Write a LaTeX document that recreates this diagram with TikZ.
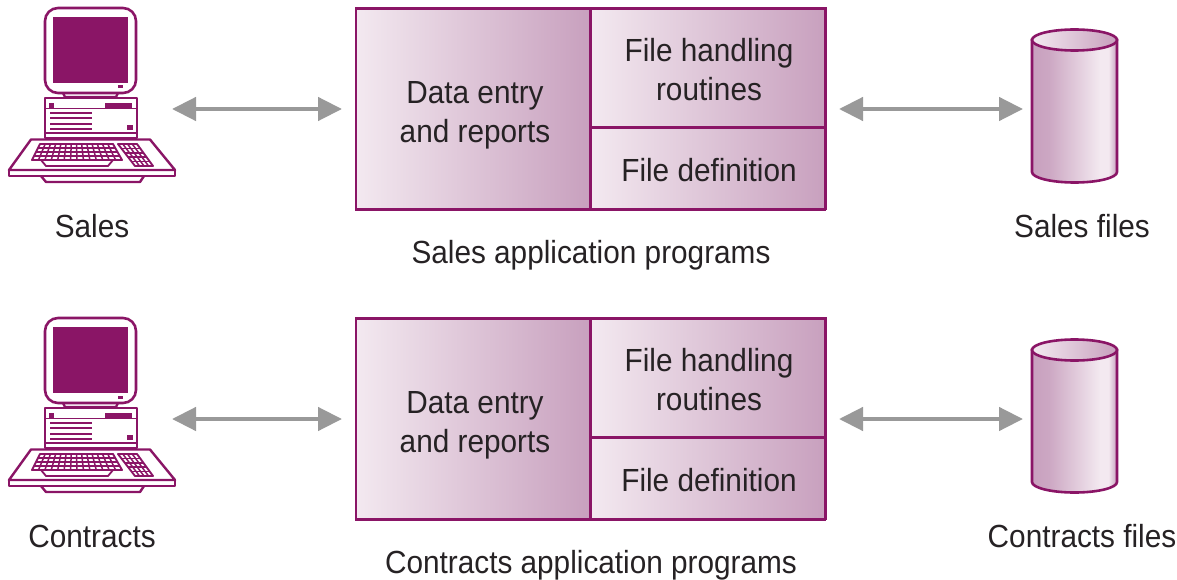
\documentclass[tikz,border=0pt]{standalone}
\usepackage{fontspec}
\setmainfont[FakeStretch=0.93]{Liberation Sans}
\usetikzlibrary{arrows.meta}
\definecolor{plum}{HTML}{8A1566}
\definecolor{pale}{HTML}{F3E9F0}
\definecolor{deep}{HTML}{C8A0BE}
\definecolor{arrowgrey}{HTML}{999999}
\definecolor{ink}{HTML}{262224}
\pgfdeclarehorizontalshading{cylbody}{100bp}{color(0bp)=(deep); color(25bp)=(deep); color(35bp)=(deep!90!pale); color(50bp)=(deep!45!pale); color(65bp)=(pale); color(70bp)=(pale); color(75bp)=(deep); color(100bp)=(deep)}
\tikzset{
  x=1pt,y=-1pt,
  lab/.style={text=ink,font=\fontsize{32}{39}\selectfont,align=center,inner sep=0pt},
  cell/.style={draw=plum,line width=2.7pt,left color=pale,right color=deep,outer sep=0pt,inner sep=0pt},
  shell/.style={draw=plum,line width=2.7pt,minimum width=469pt,minimum height=201pt,outer sep=0pt,inner sep=0pt},
  anchorbox/.style={inner sep=0pt,outer sep=0pt},
  link/.style={draw=arrowgrey,line width=4.5pt,{Triangle[length=24pt,width=23pt]}-{Triangle[length=24pt,width=23pt]}},
  pcline/.style={draw=plum,line width=2.4pt,line join=round},
  pcfill/.style={fill=plum},
  keyline/.style={draw=plum,line width=1.5pt},
}
\newcommand{\drawpc}{%
  % monitor
  \draw[pcline,line width=2.6pt,rounded corners=13pt] (45,8) rectangle (136,93);
  \fill[pcfill] (53,17) rectangle (128,83);
  \fill[pcfill] (118,85.5) rectangle (123,88.5);
  % neck
  \draw[pcline] (63,93) -- (65,97) -- (116,97) -- (118,93);
  % base
  \draw[pcline] (45,98) rectangle (137,138);
  \draw[pcline,line width=1.6pt] (45,108.5) -- (137,108.5);
  \draw[pcline,line width=1.6pt] (45,133) -- (137,133);
  \fill[pcfill] (49,103) rectangle (54,108);
  \fill[pcfill] (105,103) rectangle (132,108);
  \foreach \ly in {113,118,124,129}{\fill[pcfill] (50,\ly-1) rectangle (92,\ly+1);}
  \fill[pcfill] (127,125) rectangle (133,130);
  % platform
  \draw[pcline] (31,139.5) -- (150,139.5) -- (175,170) -- (9,170) -- cycle;
  \draw[pcline] (9,170) -- (9,176) -- (175,176) -- (175,170);
  \draw[pcline] (41,176) -- (46,182) -- (140,182) -- (144,176);
  % main keyboard
  \draw[keyline,line width=1.9pt,line join=round] (40,144) -- (113,144) -- (122,160) -- (32,160) -- cycle;
  \foreach \k in {1,2,3}{\draw[keyline] (40-\k*2,144+\k*4) -- (113+\k*2.25,144+\k*4);}
  \foreach \k in {1,...,13}{\draw[keyline] (40+\k*5.21,144) -- (32+\k*6.43,160);}
  \draw[pcline,line width=1.8pt] (41,160) -- (46,166) -- (108,166) -- (113,160);
  % keypad
  \draw[keyline,line width=1.9pt,line join=round] (118,144) -- (137,144) -- (153,166) -- (135,166) -- cycle;
  \foreach \k in {1,2,3,4}{\draw[keyline] (118+\k*3.4,144+\k*4.4) -- (137+\k*3.2,144+\k*4.4);}
  \foreach \k in {1,2,3}{\draw[keyline] (118+\k*4.75,144) -- (135+\k*4.5,166);}
}
\newcommand{\drawcyl}{%
  \path[shading=cylbody,draw=plum,line width=2.6pt] (1032,40) -- (1032,172) arc[start angle=180,end angle=0,x radius=42.5,y radius=10.5] -- (1117,40) -- cycle;
  \shade[left color=pale,right color=deep,draw=plum,line width=2.6pt] (1074.5,40) ellipse[x radius=42.5,y radius=10.5];
}
\begin{document}
\begin{tikzpicture}
\useasboundingbox (0,0) rectangle (1177,580);
\foreach \n/\dy/\user/\prog/\file in {s/0/Sales/Sales application programs/Sales files,c/310/Contracts/Contracts application programs/Contracts files}{
\begin{scope}[yshift=-\dy pt]
  \drawpc
  \drawcyl
  \node[anchorbox,minimum width=164pt,minimum height=20pt] (pc\n) at (90,109) {};
  \node[anchorbox,minimum width=85pt,minimum height=148pt] (cyl\n) at (1074.5,109) {};
  \node[shell] (box\n) at (590.5,109) {};
  \node[cell,minimum width=234pt,minimum height=201pt] (left\n) at (473,109) {};
  \node[cell,minimum width=235pt,minimum height=119pt] (top\n) at (708,68) {};
  \node[cell,minimum width=235pt,minimum height=81pt] (def\n) at (708,168.5) {};
  \node[lab] (ltext\n) at (475,115) {Data entry\\and reports};
  \node[lab] (ttext\n) at (709,70) {File handling\\routines};
  \node[lab] (dtext\n) at (709,170.5) {File definition};
  \node[lab] (user\n) at (92,226) {\user};
  \node[lab] (prog\n) at (591,255) {\prog};
  \node[lab] (file\n) at (1082,226) {\file};
  \draw[link,shorten >=14pt] (pc\n.east) -- (box\n.west);
  \draw[link,shorten <=14pt,shorten >=9pt] (box\n.east) -- (cyl\n.west);
\end{scope}
}
\end{tikzpicture}
\end{document}
